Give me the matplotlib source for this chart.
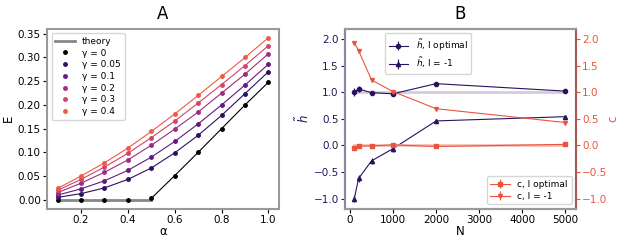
import numpy as np
import matplotlib
matplotlib.use("Agg")
import matplotlib.pyplot as plt

alpha_vals = [0.1, 0.2, 0.3, 0.4, 0.5, 0.6, 0.7, 0.8, 0.9, 1.0]
gamma_labels = ["γ = 0", "γ = 0.05", "γ = 0.1", "γ = 0.2", "γ = 0.3", "γ = 0.4"]
E_g0 = [0.0, 0.0, 0.0, 0.0, 0.003, 0.051, 0.100, 0.150, 0.200, 0.248]
E_g005 = [0.005, 0.013, 0.025, 0.043, 0.067, 0.099, 0.136, 0.178, 0.224, 0.270]
E_g01 = [0.010, 0.023, 0.040, 0.062, 0.090, 0.123, 0.160, 0.200, 0.242, 0.286]
E_g02 = [0.015, 0.035, 0.058, 0.084, 0.115, 0.149, 0.185, 0.225, 0.265, 0.308]
E_g03 = [0.020, 0.043, 0.069, 0.098, 0.131, 0.166, 0.204, 0.243, 0.283, 0.325]
E_g04 = [0.024, 0.050, 0.078, 0.109, 0.144, 0.181, 0.220, 0.260, 0.300, 0.342]
E_series = [E_g0, E_g005, E_g01, E_g02, E_g03, E_g04]
gamma_colors = ["#000000", "#2c115f", "#641a80", "#9c2e7f", "#d3436e", "#ee5a45"]

N_vals = [100, 200, 500, 1000, 2000, 5000]
h_opt = [1.00, 1.06, 0.99, 0.97, 1.16, 1.02]
h_opt_err = [0.07, 0.06, 0.04, 0.04, 0.02, 0.02]
h_m1 = [-1.00, -0.62, -0.29, -0.06, 0.46, 0.54]
h_m1_err = [0.07, 0.07, 0.06, 0.06, 0.02, 0.02]
c_opt = [-0.05, -0.01, -0.01, 0.01, -0.02, 0.02]
c_opt_err = [0.01, 0.01, 0.01, 0.01, 0.01, 0.01]
c_m1 = [1.93, 1.78, 1.23, 1.01, 0.69, 0.43]
c_m1_err = [0.02, 0.02, 0.02, 0.01, 0.01, 0.01]

purple = "#2c115f"
red = "#e8553f"
spine_gray = "#999999"
TS = 7.5
LS = 8.5

fig = plt.figure(figsize=(6.21, 2.40), dpi=100)
axA = fig.add_axes([0.0757, 0.13, 0.3736, 0.75])
axB = fig.add_axes([0.5556, 0.13, 0.3720, 0.75])

# Panel A
axA.plot(alpha_vals[:5], [0.0] * 5, color="#888888", lw=2.0, label="theory", zorder=1)
for k, (ys, col, lab) in enumerate(zip(E_series, gamma_colors, gamma_labels)):
    if k == 0:
        axA.plot(alpha_vals[4:], ys[4:], color=col, lw=0.8, zorder=2)
    else:
        axA.plot(alpha_vals, ys, color=col, lw=0.8, zorder=2)
    axA.plot(alpha_vals, ys, 'o', color=col, ms=2.5, label=lab, zorder=3)
axA.set_title("A", fontsize=12, pad=7)
axA.set_xlabel("α", fontsize=LS, labelpad=0)
axA.set_ylabel("E", fontsize=LS, labelpad=2)
axA.set_yticks([0.0, 0.05, 0.10, 0.15, 0.20, 0.25, 0.30, 0.35])
axA.set_ylim(-0.019, 0.3605)
axA.set_xticks([0.2, 0.4, 0.6, 0.8, 1.0])
axA.tick_params(labelsize=TS, pad=1.5, length=3)
axA.legend(loc="upper left", fontsize=6.5, handlelength=2.2, labelspacing=0.3,
           borderpad=0.4, handletextpad=0.8)

# Panel B
axB2 = axB.twinx()
axB.plot([N_vals[0], N_vals[-1]], [1.0, 1.0], color="#c9bfd9", lw=2.0, alpha=0.8, zorder=1)
axB2.plot([N_vals[0], N_vals[-1]], [0.0, 0.0], color="#f3b0a6", lw=2.0, alpha=0.8, zorder=1)
axB.errorbar(N_vals, h_opt, yerr=h_opt_err, color=purple, marker='o', ms=3.0,
             lw=0.8, elinewidth=0.8, label=r"$\tilde{h}$, I optimal")
axB.errorbar(N_vals, h_m1, yerr=h_m1_err, color=purple, marker='^', ms=3.0,
             lw=0.8, elinewidth=0.8, label=r"$\tilde{h}$, I = -1")
axB2.errorbar(N_vals, c_opt, yerr=c_opt_err, color=red, marker='s', ms=3.0,
              lw=0.8, elinewidth=0.8, label="c, I optimal")
axB2.errorbar(N_vals, c_m1, yerr=c_m1_err, color=red, marker='v', ms=2.8,
              lw=0.8, elinewidth=0.8, label="c, I = -1")
for ax in (axB, axB2):
    ax.set_ylim(-1.19, 2.19)
    ax.set_yticks([-1.0, -0.5, 0.0, 0.5, 1.0, 1.5, 2.0])
axB.set_xticks([0, 1000, 2000, 3000, 4000, 5000])
axB.set_xlim(-115, 5250)
axB.set_title("B", fontsize=12, pad=7)
axB.set_xlabel("N", fontsize=LS, labelpad=0)
axB.set_ylabel(r"$\tilde{h}$", fontsize=LS, color=purple, labelpad=1)
axB2.set_ylabel("c", fontsize=LS, color=red, labelpad=-1)
axB.tick_params(axis='y', colors=purple, labelsize=TS, pad=1.5, length=3)
axB.tick_params(axis='x', labelsize=TS, pad=1.5, length=3)
axB2.tick_params(axis='y', colors=red, labelsize=TS, pad=1.5, length=3)
axB.legend(loc="upper center", bbox_to_anchor=(0.36, 1.0), fontsize=6.5,
           handlelength=2.2, labelspacing=0.3, borderpad=0.4)
axB2.legend(loc="lower right", fontsize=6.5, handlelength=2.2, labelspacing=0.3,
            borderpad=0.4)

for ax in (axA, axB, axB2):
    for s in ax.spines.values():
        s.set_color(spine_gray)
        s.set_linewidth(1.5)
axB2.spines['left'].set_color("#8e85a3")
axB2.spines['right'].set_color("#a85a55")

fig.savefig("out.png", dpi=100)
